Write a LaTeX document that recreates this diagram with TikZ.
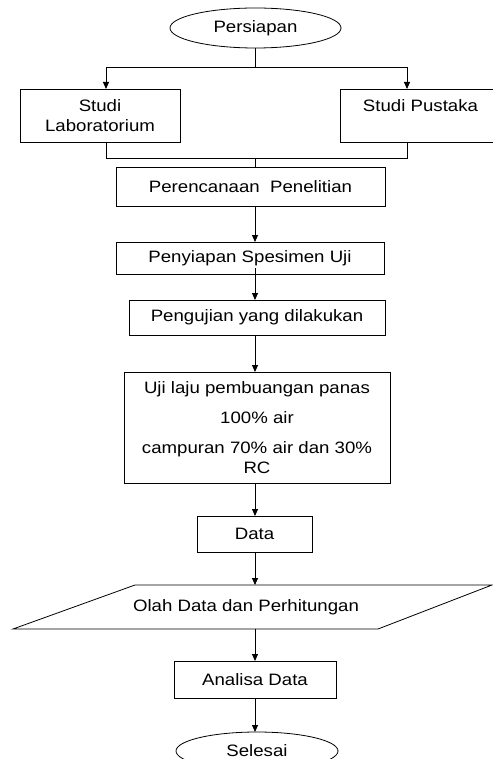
\documentclass[tikz,border=0pt]{standalone}
\usepackage{fontspec}
\setmainfont[FakeStretch=1.13]{Liberation Sans}
\usetikzlibrary{arrows.meta,shapes.geometric,calc}
\begin{document}
\begin{tikzpicture}[x=1pt,y=-1pt,
  every node/.style={font=\fontsize{16.5}{20}\selectfont, inner sep=0pt, outer sep=0pt},
  box/.style={draw, line width=0.8pt, rectangle, align=center},
  oval/.style={draw, line width=0.8pt, ellipse},
  line/.style={line width=0.8pt},
  arr/.style={line width=0.8pt, -{Triangle[length=7pt,width=6pt]}}]
\useasboundingbox (0,0) rectangle (492,759);
\coordinate (trunk) at (255,0);
\node[oval, minimum width=171pt, minimum height=40pt] (start) at (255.5,28) {Persiapan};
\node[box, minimum width=160pt, minimum height=53pt] (lab) at (100,115.5) {Studi\\Laboratorium};
\node[box, minimum width=161pt, minimum height=53pt] (pus) at (420.5,115.5) {Studi Pustaka\\\mbox{}};
\node[box, minimum width=269pt, minimum height=39pt] (ren) at (250.5,186.5) {Perencanaan\ \ Penelitian};
\node[box, minimum width=268pt, minimum height=32pt] (pen) at (250,258) {Penyiapan Spesimen Uji};
\node[box, minimum width=256pt, minimum height=35pt] (uji) at (257,317.5) {Pengujian yang dilakukan};
\node[box, minimum width=266pt, minimum height=111pt] (laju) at (257,427.5)
  {Uji laju pembuangan panas\\[10pt]100\% air\\[10pt]campuran 70\% air dan 30\%\\RC};
\node[box, minimum width=115pt, minimum height=36pt] (data) at (254.5,534) {Data};
\coordinate (olahtl) at (135,585);
\coordinate (olahtr) at (492,585);
\coordinate (olahbr) at (378,629);
\coordinate (olahbl) at (13,629);
\draw[line] (olahtl) -- (olahtr) -- (olahbr) -- (olahbl) -- cycle;
\coordinate (olahn) at (255,585);
\coordinate (olahs) at (255,629);
\node (olah) at (246,607) {Olah Data dan Perhitungan};
\node[box, minimum width=162pt, minimum height=37pt] (ana) at (255,679.5) {Analisa Data};
\node[oval, minimum width=162pt, minimum height=38pt] (end) at (257,751) {Selesai};
% connectors
\coordinate (split) at (255,67);
\coordinate (join) at (255,158);
\draw[line] (start.south -| trunk) -- (split);
\draw[arr] (split) -| (lab.north -| 106,0);
\draw[arr] (split) -| (pus.north -| 407,0);
\draw[line] (lab.south -| 106,0) |- (join);
\draw[line] (pus.south -| 407,0) |- (join);
\draw[line] (join) -- (ren.north -| trunk);
\draw[arr] (ren.south -| trunk) -- (pen.north -| trunk);
\draw[arr] ([yshift=6pt]pen.south -| trunk) -- (uji.north -| trunk);
\draw[arr] (uji.south -| trunk) -- (laju.north -| trunk);
\draw[arr] (laju.south -| trunk) -- (data.north -| trunk);
\draw[arr] (data.south -| trunk) -- (olahn);
\draw[arr] (olahs) -- (ana.north -| trunk);
\draw[arr] (ana.south -| trunk) -- (end.north -| trunk);
\end{tikzpicture}
\end{document}
